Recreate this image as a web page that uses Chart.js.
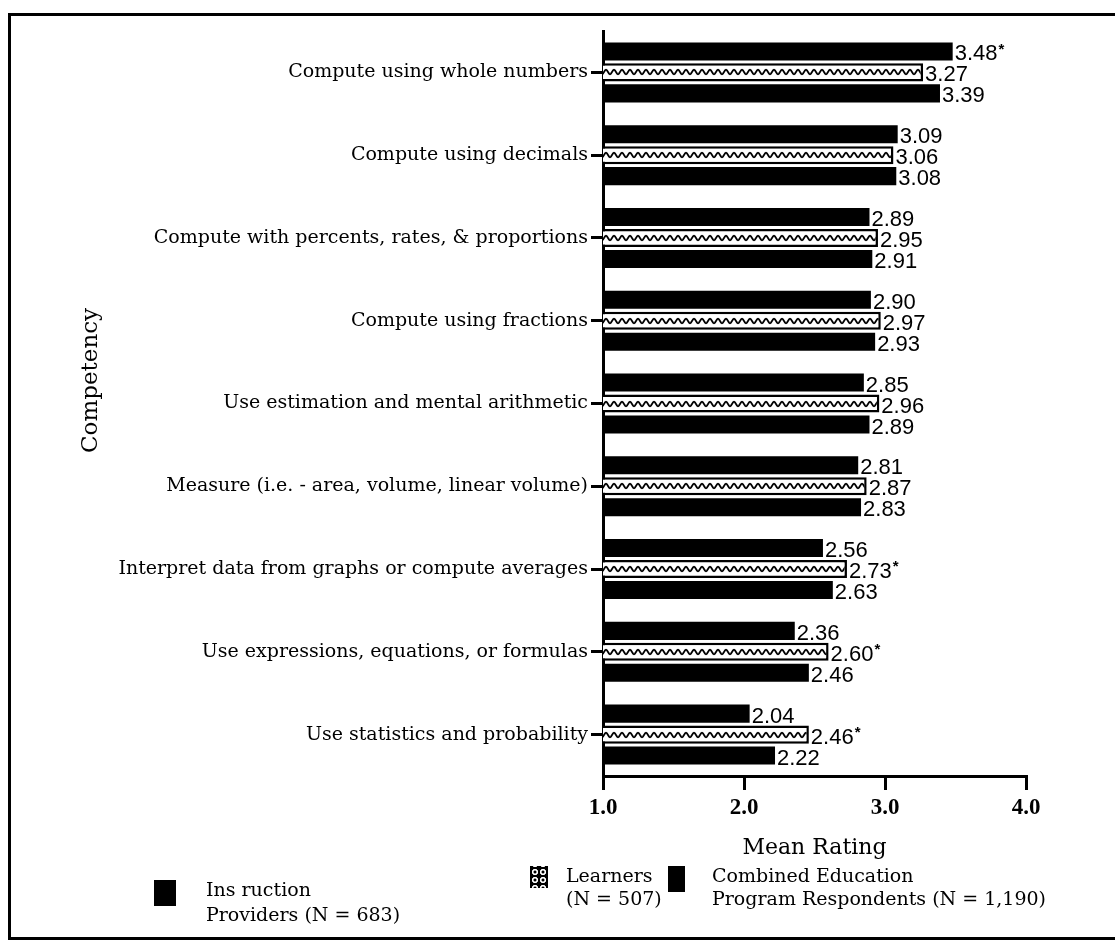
<!DOCTYPE html>
<html>
<head>
<meta charset="utf-8">
<title>Competency ratings</title>
<script src="https://cdn.jsdelivr.net/npm/chart.js@4.4.0/dist/chart.umd.min.js"></script>
<style>
  body { margin: 0; background: #fff; }
  #wrap { position: relative; width: 1115px; height: 944px; overflow: hidden; }
  #frame { position: absolute; left: 8px; top: 13px; width: 1120px; height: 921px;
           border-left: 3px solid #000; border-top: 3px solid #000; border-bottom: 3px solid #000; }
  #chart { position: absolute; left: 0; top: 0; }
  .sw { position: absolute; background: #000; }
  .sw.dots { background-color: #000;
             background-image: radial-gradient(circle, #000 1.2px, #fff 1.8px, #fff 2.8px, #000 3.4px);
             background-size: 8px 8px; background-position: 1px 2px; }
  .leg { position: absolute; font-family: "DejaVu Serif", serif; font-size: 19px; line-height: 23px; color: #000; white-space: nowrap; }
</style>
</head>
<body>
<div id="wrap">
  <div id="frame"></div>
  <canvas id="chart" width="1115" height="944"></canvas>
  <div class="sw" style="left:154px; top:880px; width:22px; height:26px;"></div>
  <div class="leg" style="left:206px; top:877px; line-height:25px;">Ins ruction<br>Providers (N = 683)</div>
  <div class="sw dots" style="left:530px; top:866px; width:18px; height:22px;"></div>
  <div class="leg" style="left:566px; top:864px;">Learners<br>(N = 507)</div>
  <div class="sw" style="left:668px; top:866px; width:17px; height:26px;"></div>
  <div class="leg" style="left:712px; top:864px;">Combined Education<br>Program Respondents (N = 1,190)</div>
</div>
<script>
// competencies, top to bottom
var categories = [
    'Compute using whole numbers',
    'Compute using decimals',
    'Compute with percents, rates, & proportions',
    'Compute using fractions',
    'Use estimation and mental arithmetic',
    'Measure (i.e. - area, volume, linear volume)',
    'Interpret data from graphs or compute averages',
    'Use expressions, equations, or formulas',
    'Use statistics and probability'
];

// mean ratings per group
var providers = [3.48, 3.09, 2.89, 2.90, 2.85, 2.81, 2.56, 2.36, 2.04];
var learners  = [3.27, 3.06, 2.95, 2.97, 2.96, 2.87, 2.73, 2.60, 2.46];
var combined  = [3.39, 3.08, 2.91, 2.93, 2.89, 2.83, 2.63, 2.46, 2.22];

// asterisk after the value
var providersStar = [true, false, false, false, false, false, false, false, false];
var learnersStar  = [false, false, false, false, false, false, true, true, true];
var combinedStar  = [false, false, false, false, false, false, false, false, false];

var xTicks = [1, 2, 3, 4];

// white tile with a black wave for the learners bars
var waveTile = document.createElement('canvas');
waveTile.width = 8;
waveTile.height = 18;
(function () {
    var g = waveTile.getContext('2d');
    g.fillStyle = '#fff';
    g.fillRect(0, 0, 8, 18);
    g.strokeStyle = '#000';
    g.lineWidth = 1.8;
    g.beginPath();
    for (var x = -1; x <= 9; x += 0.5) {
        var y = 9 + 2.2 * Math.sin(x / 8 * 2 * Math.PI);
        if (x === -1) g.moveTo(x, y); else g.lineTo(x, y);
    }
    g.stroke();
})();

function wavePattern(context) {
    var chart = context.chart;
    var yScale = chart.scales.y;
    if (!yScale || context.dataIndex === undefined) return '#fff';
    var center = yScale.getPixelForValue(context.dataIndex);
    var pat = chart.ctx.createPattern(waveTile, 'repeat');
    pat.setTransform(new DOMMatrix().translate(0, Math.round(center) - 9));
    return pat;
}

// prints the value at the end of every bar
var valueLabels = {
    id: 'valueLabels',
    afterDatasetsDraw: function (chart) {
        var ctx = chart.ctx;
        ctx.save();
        ctx.fillStyle = '#000';
        ctx.textBaseline = 'middle';
        chart.data.datasets.forEach(function (ds, i) {
            chart.getDatasetMeta(i).data.forEach(function (bar, j) {
                var txt = ds.data[j].toFixed(2);
                ctx.font = '22px "Liberation Sans", Arial, sans-serif';
                var x = bar.x + 2;
                var y = bar.y + 3;
                ctx.fillText(txt, x, y);
                if (ds.stars[j]) {
                    var w = ctx.measureText(txt).width;
                    ctx.font = 'bold 15px "Liberation Sans", Arial, sans-serif';
                    ctx.fillText('*', x + w + 1, y - 5);
                }
            });
        });
        ctx.restore();
    }
};

var ctx = document.getElementById('chart').getContext('2d');
var myChart = new Chart(ctx, {
    type: 'bar',
    data: {
        labels: categories,
        datasets: [{
            label: 'Instruction Providers (N = 683)',
            data: providers,
            stars: providersStar,
            backgroundColor: '#000',
            borderWidth: 0
        }, {
            label: 'Learners (N = 507)',
            data: learners,
            stars: learnersStar,
            backgroundColor: wavePattern,
            borderColor: '#000',
            borderWidth: 2.5,
            borderSkipped: 'start'
        }, {
            label: 'Combined Education Program Respondents (N = 1,190)',
            data: combined,
            stars: combinedStar,
            backgroundColor: '#000',
            borderWidth: 0
        }]
    },
    options: {
        indexAxis: 'y',
        responsive: false,
        animation: false,
        datasets: {
            bar: { barPercentage: 0.86, categoryPercentage: 0.76 }
        },
        layout: { padding: { left: 0, top: 31, right: 89, bottom: 73 } },
        plugins: {
            legend: { display: false },
            tooltip: { enabled: false }
        },
        scales: {
            x: {
                min: 1,
                max: 4,
                afterBuildTicks: function (scale) {
                    scale.ticks = xTicks.map(function (v) { return { value: v }; });
                },
                afterFit: function (scale) { scale.height = 95; },
                ticks: {
                    callback: function (v) { return Number(v).toFixed(1); },
                    font: { family: 'Liberation Serif', weight: 'bold', size: 23 },
                    color: '#000',
                    padding: 4,
                    maxRotation: 0
                },
                grid: { drawOnChartArea: false, tickLength: 14, color: '#000', lineWidth: 3 },
                border: { color: '#000', width: 3 },
                title: {
                    display: true,
                    text: 'Mean Rating',
                    font: { family: 'DejaVu Serif', size: 22 },
                    color: '#000',
                    padding: { top: 0, bottom: 10 }
                }
            },
            y: {
                afterFit: function (scale) { scale.width = 603; },
                ticks: {
                    font: { family: 'DejaVu Serif', size: 19 },
                    color: '#000',
                    padding: 3,
                    autoSkip: false
                },
                grid: { offset: false, drawOnChartArea: false, tickLength: 12, color: '#000', lineWidth: 3 },
                border: { color: '#000', width: 3 },
                title: {
                    display: true,
                    text: '\u2003\u2003Competency',
                    font: { family: 'DejaVu Serif', size: 23 },
                    color: '#000',
                    padding: { top: 77, bottom: 0 }
                }
            }
        }
    },
    plugins: [valueLabels]
});
</script>
</body>
</html>
